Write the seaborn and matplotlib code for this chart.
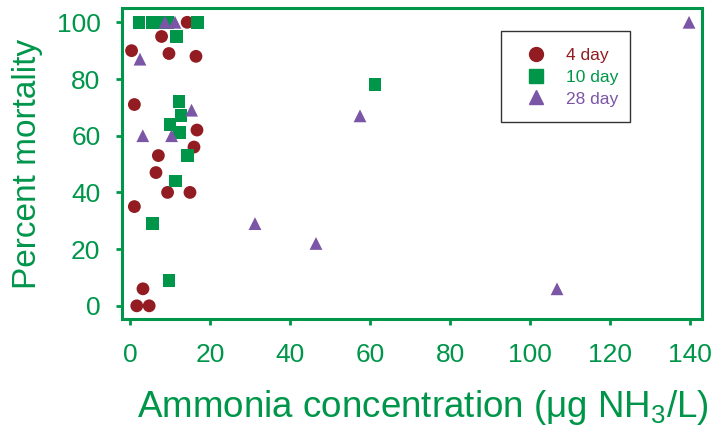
import numpy as np
import pandas as pd
import matplotlib
matplotlib.use("Agg")
import matplotlib.pyplot as plt
from matplotlib.patches import Rectangle
import seaborn as sns

# ---------------- DATA ---------------- #
day4_x = [0.4, 7.9, 14.3, 9.75, 16.5, 1.1, 16.75, 16.0, 7.1, 6.5, 9.4, 15.0, 1.1, 3.25, 1.7, 4.8]
day4_y = [90, 95, 100, 89, 88, 71, 62, 56, 53, 47, 40, 40, 35, 6, 0, 0]

day10_x = [2.25, 5.6, 7.0, 9.5, 16.9, 11.7, 12.25, 12.75, 10.0, 12.3, 14.4, 11.3, 5.6, 9.75, 61.25]
day10_y = [100, 100, 100, 100, 100, 95, 72, 67, 64, 61, 53, 44, 29, 9, 78]

day28_x = [8.75, 11.25, 2.5, 15.4, 3.2, 10.4, 57.5, 31.25, 46.5, 106.75, 139.75]
day28_y = [100, 100, 87, 69, 60, 60, 67, 29, 22, 6, 100]

groups = ["4 day", "10 day", "28 day"]
colors = ["#921c21", "#00964a", "#7b55a6"]
markers = ["o", "s", "^"]

GREEN = "#00964a"

df = pd.concat([
    pd.DataFrame({"x": day4_x, "y": day4_y, "group": groups[0]}),
    pd.DataFrame({"x": day10_x, "y": day10_y, "group": groups[1]}),
    pd.DataFrame({"x": day28_x, "y": day28_y, "group": groups[2]}),
], ignore_index=True)

# ---------------- STYLE ---------------- #
sns.set_style("white")
plt.rcParams["font.family"] = ["Liberation Sans", "DejaVu Sans"]
plt.rcParams["mathtext.fontset"] = "custom"
plt.rcParams["mathtext.rm"] = "Liberation Sans"
plt.rcParams["mathtext.it"] = "Liberation Sans"
plt.rcParams["mathtext.bf"] = "Liberation Sans"

fig = plt.figure(figsize=(7.26, 4.28), dpi=100)
ax = fig.add_axes([0.168, 0.255, 0.799, 0.726])

sns.scatterplot(data=df, x="x", y="y", hue="group", style="group",
                hue_order=groups, style_order=groups,
                palette=dict(zip(groups, colors)),
                markers=dict(zip(groups, markers)),
                s=85, linewidth=0, ax=ax, legend=False)

ax.set_xlim(-2, 143)
ax.set_ylim(-4.6, 105)
ax.set_xticks(np.arange(0, 141, 20))
ax.set_yticks(np.arange(0, 101, 20))

for sp in ax.spines.values():
    sp.set_color(GREEN)
    sp.set_linewidth(2.2)

ax.tick_params(axis="both", colors=GREEN, labelcolor=GREEN, labelsize=19,
               direction="out", length=4.5, width=2, left=True, bottom=True)
ax.tick_params(axis="x", pad=13)
ax.tick_params(axis="y", pad=11)

ax.set_xlabel("Ammonia concentration (\u03bcg NH$_3$/L)", fontsize=26.5,
              color=GREEN)
ax.xaxis.set_label_coords(0.519, -0.222)
ax.set_ylabel("Percent mortality", fontsize=24, color=GREEN, labelpad=10)

# ---------------- LEGEND ---------------- #
ax.add_patch(Rectangle((0.653, 0.632), 0.223, 0.294, transform=ax.transAxes,
                       fill=False, edgecolor="#333333", linewidth=1.0, zorder=5))
handles = [plt.Line2D([], [], linestyle="none", marker=m, color=c, markersize=10)
           for m, c in zip(markers, colors)]
leg = ax.legend(handles, groups, loc="upper left", bbox_to_anchor=(0.683, 0.9),
                frameon=False, fontsize=12.5, handlelength=1.0, handletextpad=1.25,
                labelspacing=0.38, borderpad=0, labelcolor=colors)

fig.savefig("out.png", dpi=100)
